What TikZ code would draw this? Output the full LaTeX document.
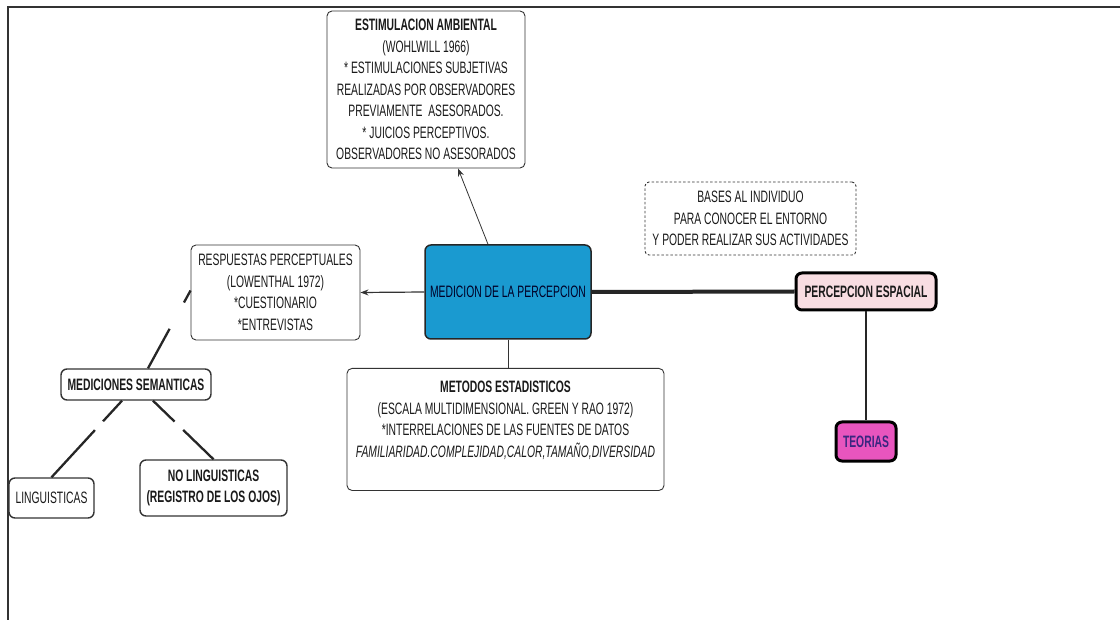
\documentclass[tikz,border=0pt]{standalone}
\usepackage{fontspec}
\usetikzlibrary{arrows.meta}
\newfontfamily\condfont{Liberation Sans}[FakeStretch=0.627]
\definecolor{medblue}{HTML}{1A9AD0}
\definecolor{pinkfill}{HTML}{F8DDE2}
\definecolor{magfill}{HTML}{E855BE}
\definecolor{teotext}{HTML}{3A2680}
\definecolor{inkc}{HTML}{1A1A1A}
\definecolor{edgec}{HTML}{333333}
\tikzset{
  basefont/.style={font=\condfont\fontsize{16.5}{21.5}\selectfont, text=inkc, align=center},
  thinbox/.style={basefont, draw=edgec, line width=0.9pt, rounded corners=5pt, fill=white, inner sep=2pt},
  midbox/.style={basefont, draw=edgec, line width=1.4pt, rounded corners=6pt, fill=white, inner sep=2pt},
  dotbox/.style={basefont, draw=edgec, line width=0.9pt, dash pattern=on 2.5pt off 2pt, rounded corners=4pt, inner sep=2pt},
  heavybox/.style={basefont, draw=black, line width=3pt, rounded corners=6pt, inner sep=2pt},
  thinarrow/.style={draw=edgec, line width=0.8pt, -{Stealth[length=8pt,width=6pt]}},
  midarrow/.style={draw=edgec, line width=1.2pt, -{Stealth[length=8pt,width=6pt]}},
  dashline/.style={draw=black!85, line width=2.3pt, line cap=butt},
}
\begin{document}
\begin{tikzpicture}[x=1pt,y=-1pt]
\useasboundingbox (0,0) rectangle (1120,620);
% frame
\draw[line width=2pt, black!80] (8,621) -- (8,7) -- (1121,7);

\node[thinbox, minimum width=198pt, minimum height=157pt] (estim) at (426,89.5)
  {\textbf{ESTIMULACION AMBIENTAL}\\(WOHLWILL 1966)\\* ESTIMULACIONES SUBJETIVAS\\REALIZADAS POR OBSERVADORES\\PREVIAMENTE\ \ ASESORADOS.\\* JUICIOS PERCEPTIVOS.\\OBSERVADORES NO ASESORADOS};

\node[dotbox, minimum width=211pt, minimum height=73pt] (bases) at (750.5,218.5)
  {BASES AL INDIVIDUO\\PARA CONOCER EL ENTORNO\\Y PODER REALIZAR SUS ACTIVIDADES};

\node[thinbox, minimum width=169pt, minimum height=95pt] (resp) at (275.5,292.5)
  {RESPUESTAS PERCEPTUALES\\(LOWENTHAL 1972)\\*CUESTIONARIO\\*ENTREVISTAS};

\node[basefont, draw=black!85, line width=1.5pt, rounded corners=6pt, fill=medblue, text=black!85!blue, inner sep=2pt,
      minimum width=166pt, minimum height=94pt] (med) at (508,292)
  {MEDICION DE LA PERCEPCION};

\node[heavybox, fill=pinkfill, minimum width=140pt, minimum height=37pt] (percesp) at (866,291.5)
  {\textbf{PERCEPCION ESPACIAL}};

\node[heavybox, fill=magfill, text=teotext, minimum width=60pt, minimum height=39pt] (teorias) at (866,441.5)
  {\textbf{TEORIAS}};

\node[thinbox, anchor=north, minimum width=317pt, inner ysep=3pt, text height=86pt, text depth=30pt] (metodos) at (505.5,368)
  {\textbf{METODOS ESTADISTICOS}\\(ESCALA MULTIDIMENSIONAL. GREEN Y RAO 1972)\\*INTERRELACIONES DE LAS FUENTES DE DATOS\\\textit{FAMILIARIDAD.COMPLEJIDAD,CALOR,TAMAÑO,DIVERSIDAD}};

\node[midbox, minimum width=150pt, minimum height=31pt] (medsem) at (136,384.5)
  {\textbf{MEDICIONES SEMANTICAS}};

\node[midbox, minimum width=85pt, minimum height=40pt] (ling) at (51.5,498)
  {LINGUISTICAS};

\node[midbox, minimum width=147pt, minimum height=56pt] (noling) at (213.5,488)
  {\textbf{NO LINGUISTICAS}\\\textbf{(REGISTRO DE LOS OJOS)}};

% connectors
\draw[thinarrow] ([xshift=-20pt]med.north) -- ([xshift=32pt]estim.south);
\draw[midarrow] (med.west) -- (resp.east);
\draw[line width=4pt, black!85] (med.east) -- (percesp.west);
\draw[line width=0.8pt, edgec] (med.south) -- (metodos.north -| med.south);
\draw[line width=2.5pt, black!85] (percesp.south) -- (teorias.north);

\draw[dashline, dash pattern=on 45pt off 30pt on 30pt off 30pt]
  ([xshift=12pt]medsem.north) -- ([yshift=2pt]resp.west);
\draw[dashline, dash pattern=on 28pt off 12pt on 200pt off 10pt]
  ([xshift=-14pt]medsem.south) -- (ling.north);
\draw[dashline, dash pattern=on 30pt off 12pt on 200pt off 10pt]
  ([xshift=17pt]medsem.south) -- (noling.north);
\end{tikzpicture}
\end{document}
